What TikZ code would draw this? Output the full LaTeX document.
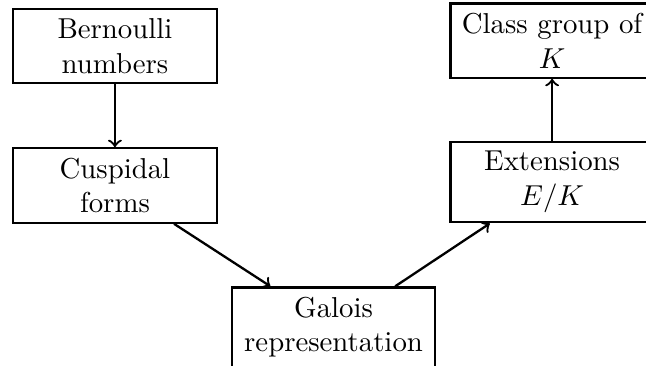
\documentclass[tikz,border=0pt]{standalone}
\usepackage{amsmath}
\usepackage{tikz}

\begin{document}
\begin{tikzpicture}[box/.style={draw,thick,text width=64pt,align=center},
	link/.style={->,thick}]
	\useasboundingbox (0,0) rectangle (7.885,-4.467);
	\clip (0,0) rectangle (7.885,-4.467);

	\node[box] (bern) at (1.403,-0.562) {Bernoulli\\ numbers};
	\node[box] (cusp) at (1.403,-2.264) {Cuspidal\\ forms};
	\node[box] (gal) at (4.071,-3.995) {Galois\\ representation};
	\node[box] (ext) at (6.739,-2.222) {Extensions\\ $E/K$};
	\node[box] (cls) at (6.739,-0.496) {Class group of\\ $K$};

	\draw[link] (bern) -- (cusp);
	\draw[link] (cusp) -- (gal);
	\draw[link] (gal) -- (ext);
	\draw[link] (ext) -- (cls);
\end{tikzpicture}
\end{document}
